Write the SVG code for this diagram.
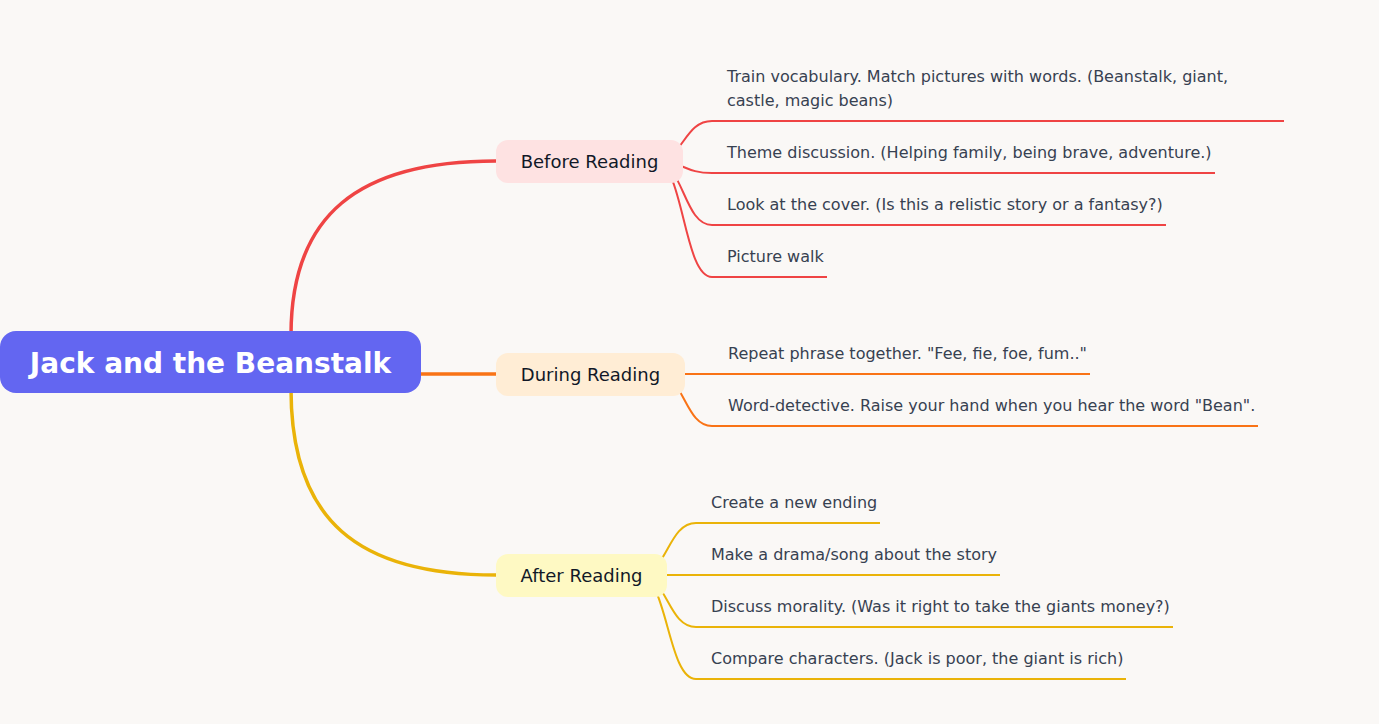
<svg xmlns="http://www.w3.org/2000/svg" width="1379" height="724" viewBox="0 0 1379 724">
<style>
.bg{fill:#FAF8F6}
.main{fill:none;stroke-width:3.5;stroke-linecap:round}
.sub{fill:none;stroke-width:2}
.red{stroke:#EF4444}
.orange{stroke:#F97316}
.yellow{stroke:#EAB308}
.root-text{font-family:"DejaVu Sans",sans-serif;font-weight:bold;font-size:28px;fill:#FFFFFF}
.branch-text{font-family:"DejaVu Sans",sans-serif;font-size:18px;fill:#111827}
.leaf-text{font-family:"DejaVu Sans",sans-serif;font-size:16px;fill:#374151}
</style>
<rect class="bg" x="0" y="0" width="1379" height="724"/>
<g id="connectors">
  <path class="main red" d="M291,335 C291,215 358,161 496,161"/>
  <path class="main yellow" d="M291,389 C291,521 358,575 496,575"/>
  <path class="main orange" d="M415,374 H496"/>
  <path class="sub red" d="M655,161 C683.5,161 683.5,121 712,121 H1284"/>
  <path class="sub red" d="M655,161 C683.5,161 683.5,173 712,173 H1215"/>
  <path class="sub red" d="M655,161 C683.5,161 683.5,225 712,225 H1166"/>
  <path class="sub red" d="M655,161 C683.5,161 683.5,277 712,277 H827"/>
  <path class="sub orange" d="M657,374 H1090"/>
  <path class="sub orange" d="M657,374 C684.5,374 684.5,426 712,426 H1258"/>
  <path class="sub yellow" d="M639,575 C667.5,575 667.5,523 696,523 H880"/>
  <path class="sub yellow" d="M639,575 H1000"/>
  <path class="sub yellow" d="M639,575 C667.5,575 667.5,627 696,627 H1173"/>
  <path class="sub yellow" d="M639,575 C667.5,575 667.5,679 696,679 H1126"/>
</g>
<g id="root">
  <rect x="0" y="331" width="421" height="62" rx="16" fill="#6366F1"/>
  <text class="root-text" x="210.5" y="372.5" text-anchor="middle">Jack and the Beanstalk</text>
</g>
<g id="before-reading">
  <rect x="496" y="140" width="187" height="43" rx="12" fill="#FEE2E2"/>
  <text class="branch-text" x="589.5" y="167.5" text-anchor="middle">Before Reading</text>
</g>
<g id="during-reading">
  <rect x="496" y="353" width="189" height="43" rx="12" fill="#FFEDD5"/>
  <text class="branch-text" x="590.5" y="380.5" text-anchor="middle">During Reading</text>
</g>
<g id="after-reading">
  <rect x="496" y="554" width="171" height="43" rx="12" fill="#FEF9C3"/>
  <text class="branch-text" x="581.5" y="581.5" text-anchor="middle">After Reading</text>
</g>
<g id="leaf-train">
  <text class="leaf-text" x="727" y="82">Train vocabulary. Match pictures with words. (Beanstalk, giant,</text>
  <text class="leaf-text" x="727" y="106">castle, magic beans)</text>
</g>
<g id="leaf-theme"><text class="leaf-text" x="727" y="158">Theme discussion. (Helping family, being brave, adventure.)</text></g>
<g id="leaf-cover"><text class="leaf-text" x="727" y="210">Look at the cover. (Is this a relistic story or a fantasy?)</text></g>
<g id="leaf-picture"><text class="leaf-text" x="727" y="262">Picture walk</text></g>
<g id="leaf-repeat"><text class="leaf-text" x="728" y="359">Repeat phrase together. "Fee, fie, foe, fum.."</text></g>
<g id="leaf-word"><text class="leaf-text" x="728" y="411">Word-detective. Raise your hand when you hear the word "Bean".</text></g>
<g id="leaf-ending"><text class="leaf-text" x="711" y="508">Create a new ending</text></g>
<g id="leaf-drama"><text class="leaf-text" x="711" y="560">Make a drama/song about the story</text></g>
<g id="leaf-morality"><text class="leaf-text" x="711" y="612">Discuss morality. (Was it right to take the giants money?)</text></g>
<g id="leaf-compare"><text class="leaf-text" x="711" y="664">Compare characters. (Jack is poor, the giant is rich)</text></g>
</svg>
